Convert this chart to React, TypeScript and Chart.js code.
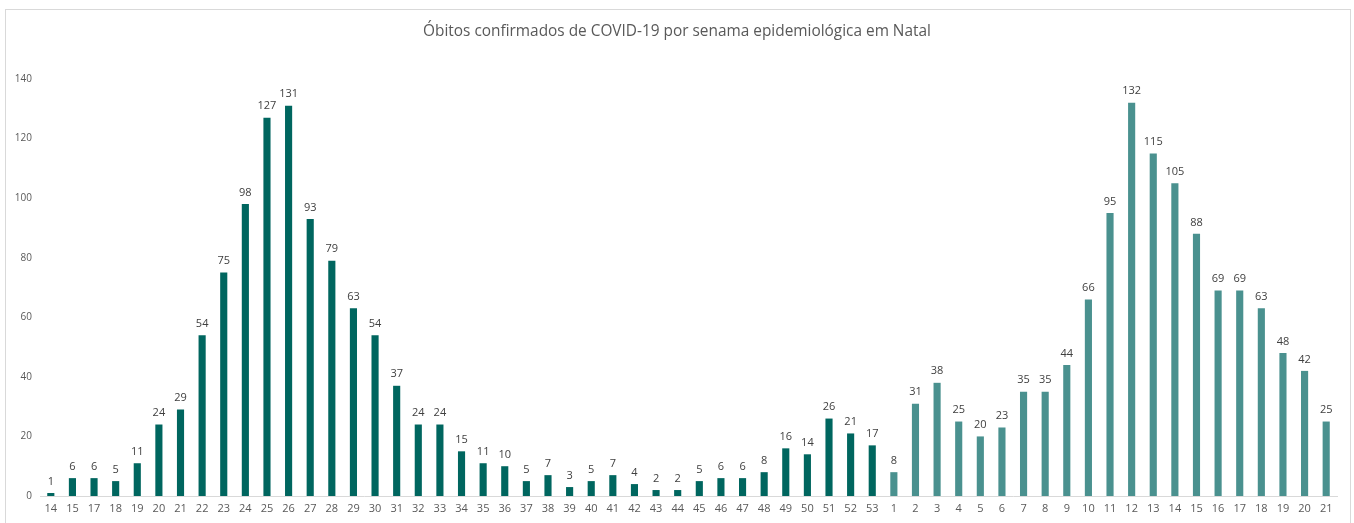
import React, { useEffect, useRef } from "react";
import { Chart, registerables } from "chart.js";

Chart.register(...registerables);

const TITLE = "Óbitos confirmados de COVID-19 por senama epidemiológica em Natal";

const weeks2020 = [
  "14", "15", "17", "18", "19", "20", "21", "22", "23", "24", "25", "26", "27", "28", "29", "30",
  "31", "32", "33", "34", "35", "36", "37", "38", "39", "40", "41", "42", "43", "44", "45", "46",
  "47", "48", "49", "50", "51", "52", "53",
];
const deaths2020 = [
  1, 6, 6, 5, 11, 24, 29, 54, 75, 98, 127, 131, 93, 79, 63, 54,
  37, 24, 24, 15, 11, 10, 5, 7, 3, 5, 7, 4, 2, 2, 5, 6,
  6, 8, 16, 14, 26, 21, 17,
];
const weeks2021 = [
  "1", "2", "3", "4", "5", "6", "7", "8", "9", "10", "11", "12", "13", "14", "15", "16",
  "17", "18", "19", "20", "21",
];
const deaths2021 = [
  8, 31, 38, 25, 20, 23, 35, 35, 44, 66, 95, 132, 115, 105, 88, 69,
  69, 63, 48, 42, 25,
];
const yTicks = [0, 20, 40, 60, 80, 100, 120, 140];

const COLOR_2020 = "#00665f";
const COLOR_2021 = "#4a918f";
const FONT = "'Open Sans', 'Noto Sans', sans-serif";

export default function App() {
  const ref = useRef<HTMLCanvasElement | null>(null);

  useEffect(() => {
    document.body.style.margin = "0";
    const canvas = ref.current;
    if (!canvas) return;

    const labels = [...weeks2020, ...weeks2021];
    const data = [...deaths2020, ...deaths2021];
    const colors = [
      ...deaths2020.map(() => COLOR_2020),
      ...deaths2021.map(() => COLOR_2021),
    ];

    const frame = {
      id: "frame",
      beforeDraw(chart: any) {
        const ctx = chart.ctx;
        ctx.save();
        ctx.fillStyle = "#ffffff";
        ctx.fillRect(0, 0, chart.width, chart.height);
        ctx.strokeStyle = "#d9d9d9";
        ctx.lineWidth = 1;
        ctx.strokeRect(5.5, 9.5, 1345, 600);
        ctx.restore();
      },
    };

    const valueLabels = {
      id: "valueLabels",
      afterDatasetsDraw(chart: any) {
        const ctx = chart.ctx;
        const meta = chart.getDatasetMeta(0);
        const ds = chart.data.datasets[0];
        ctx.save();
        ctx.font = `11px ${FONT}`;
        ctx.fillStyle = "#404040";
        ctx.textAlign = "center";
        ctx.textBaseline = "bottom";
        meta.data.forEach((bar: any, i: number) => {
          ctx.fillText(String(ds.data[i]), bar.x, bar.y - 6);
        });
        ctx.restore();
      },
    };

    const chart = new Chart(canvas, {
      type: "bar",
      data: {
        labels,
        datasets: [
          {
            label: "Óbitos",
            data,
            backgroundColor: colors,
            borderWidth: 0,
            barPercentage: 0.33,
            categoryPercentage: 1,
          },
        ],
      },
      options: {
        animation: false,
        responsive: false,
        maintainAspectRatio: false,
        layout: { padding: { left: 0, right: 0, top: 0, bottom: 0 } },
        plugins: {
          legend: { display: false },
          tooltip: { enabled: false },
          title: {
            display: true,
            text: TITLE,
            color: "#595959",
            font: { family: FONT, size: 15.4, weight: "normal" },
            padding: { top: 22, bottom: 38.5 },
          },
        },
        scales: {
          x: {
            grid: { display: false, drawTicks: false },
            border: { display: true, color: "#d9d9d9", width: 1 },
            ticks: {
              color: "#595959",
              font: { family: FONT, size: 11 },
              padding: 6,
              autoSkip: false,
              maxRotation: 0,
            },
            afterFit(scale: any) {
              scale.height = 27;
            },
          },
          y: {
            min: 0,
            max: 140,
            afterBuildTicks(scale: any) {
              scale.ticks = yTicks.map((v) => ({ value: v }));
            },
            grid: { display: false, drawTicks: false },
            border: { display: false },
            ticks: {
              color: "#595959",
              font: { family: FONT, size: 10 },
              padding: 8,
            },
            afterFit(scale: any) {
              scale.width = 40;
            },
          },
          yRight: {
            position: "right",
            display: true,
            min: 0,
            max: 140,
            grid: { display: false, drawTicks: false },
            border: { display: false },
            ticks: { display: false },
            afterFit(scale: any) {
              scale.width = 17;
            },
          },
        },
      },
      plugins: [frame, valueLabels],
    });

    return () => chart.destroy();
  }, []);

  return (
    <div style={{ width: 1354, height: 523 }}>
      <canvas ref={ref} width={1354} height={523} style={{ display: "block" }} />
    </div>
  );
}
